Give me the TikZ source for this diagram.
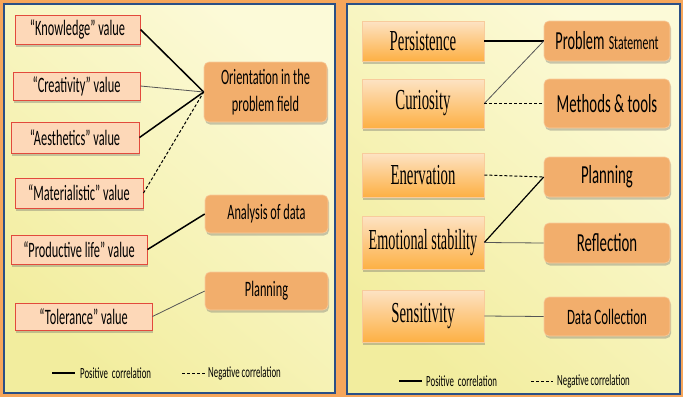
\documentclass[tikz,border=0pt]{standalone}
\usepackage{fontspec}
\usepackage{graphicx}
\setmainfont{Carlito}
\newfontfamily\calfont{Carlito}
\newfontfamily\serfont{Liberation Serif}
\usetikzlibrary{shadows}
% squeeze text sideways, the slide text is very narrow
\newcommand{\narrowtext}[2][0.56]{\scalebox{#1}[1]{#2}}
\definecolor{slideorange}{HTML}{F6A65B}
\definecolor{paneltop}{HTML}{FCFAD8}
\definecolor{panelbot}{HTML}{F2ED9E}
\definecolor{panelline}{HTML}{2A4F86}
\definecolor{valuefill}{HTML}{FDD8B8}
\definecolor{valueline}{HTML}{E24A3C}
\definecolor{stagefill}{HTML}{F2AE6C}
\definecolor{stageline}{HTML}{F8CB9C}
\definecolor{traittop}{HTML}{FDE3C4}
\definecolor{traitbot}{HTML}{FDB044}
\definecolor{weakline}{HTML}{555555}
\tikzset{
	panel/.style={draw=panelline,line width=2pt,top color=paneltop,bottom color=panelbot,shading angle=-40},
	boxshadow/.style={drop shadow={shadow xshift=1pt,shadow yshift=-2.5pt,opacity=0.35,fill=black!60}},
	valuebox/.style={boxshadow,draw=valueline,line width=1pt,fill=valuefill,inner sep=0pt,font=\calfont\fontsize{22}{27}\selectfont},
	stagebox/.style={boxshadow,draw=stageline,line width=0.6pt,fill=stagefill,rounded corners=5pt,inner sep=0pt,align=center,font=\calfont\fontsize{22}{27}\selectfont},
	traitbox/.style={boxshadow,draw=stageline,line width=0.6pt,top color=traittop,bottom color=traitbot,inner sep=0pt,font=\serfont\fontsize{29}{32}\selectfont},
	phasebox/.style={stagebox,font=\calfont\fontsize{26}{30}\selectfont},
	poscor/.style={draw=black,line width=1.5pt},
	weakcor/.style={draw=weakline,line width=0.8pt},
	negcor/.style={draw=black,line width=1pt,dash pattern=on 3pt off 2pt},
	legtext/.style={anchor=west,inner sep=0pt,font=\calfont\fontsize{15.5}{18}\selectfont},
}
\begin{document}
\begin{tikzpicture}[x=1pt,y=-1pt]
			% slide background and the two panels
			\fill[slideorange] (0,0) rectangle (683,397);
			\useasboundingbox (0,0) rectangle (683,397);
			\path[panel] (4,4) rectangle (335,393);
			\path[panel] (347,4) rectangle (680,394);

			% left panel: values
			\node[valuebox,minimum width=125,minimum height=29] (know) at (77.5,29.5) {\narrowtext{“Knowledge” value}};
			\node[valuebox,minimum width=127,minimum height=28] (crea) at (76.5,86) {\narrowtext{“Creativity” value}};
			\node[valuebox,minimum width=128,minimum height=31] (aest) at (75,137.5) {\narrowtext{“Aesthetics” value}};
			\node[valuebox,minimum width=128,minimum height=30] (mater) at (79,193) {\narrowtext{“Materialistic” value}};
			\node[valuebox,minimum width=136,minimum height=29] (prod) at (79,249.5) {\narrowtext{“Productive life” value}};
			\node[valuebox,minimum width=137,minimum height=27] (tole) at (83.5,316.5) {\narrowtext{“Tolerance” value}};

			% left panel: stages
			\node[stagebox,minimum width=123,minimum height=60] (orient) at (265.5,92) {\narrowtext{Orientation in the}\\\narrowtext{problem field}};
			\node[stagebox,minimum width=123,minimum height=38] (analys) at (266.5,214) {\narrowtext{Analysis of data}};
			\node[stagebox,minimum width=123,minimum height=38] (planl) at (266.5,291) {\narrowtext{Planning}};

			% left panel: correlations
			\draw[poscor] (know.east) -- (orient.west);
			\draw[weakcor] (crea.east) -- (orient.west);
			\draw[poscor] (aest.east) -- (orient.west);
			\draw[negcor] (mater.east) -- (orient.west);
			\draw[poscor] (prod.east) -- (analys.west);
			\draw[weakcor] (tole.east) -- (planl.west);

			% right panel: traits
			\node[traitbox,minimum width=122,minimum height=40] (pers) at (423,41) {\narrowtext[0.51]{Persistence}};
			\node[traitbox,minimum width=122,minimum height=49] (curi) at (423,103.5) {\narrowtext[0.51]{Curiosity}};
			\node[traitbox,minimum width=122,minimum height=44] (ener) at (423,175) {\narrowtext[0.51]{Enervation}};
			\node[traitbox,minimum width=122,minimum height=53] (emot) at (423,242.5) {\narrowtext[0.49]{Emotional stability}};
			\node[traitbox,minimum width=122,minimum height=52] (sens) at (423,316) {\narrowtext[0.51]{Sensitivity}};

			% right panel: phases
			\node[phasebox,minimum width=126,minimum height=40] (probst) at (607,41) {\narrowtext[0.55]{Problem}\,\narrowtext[0.59]{\fontsize{20}{30}\selectfont Statement}};
			\node[phasebox,minimum width=126,minimum height=49] (meth) at (607,103.5) {\narrowtext[0.57]{Methods \& tools}};
			\node[phasebox,minimum width=126,minimum height=40] (planr) at (607,177) {\narrowtext[0.57]{Planning}};
			\node[phasebox,minimum width=126,minimum height=40] (refl) at (607,243) {\narrowtext[0.57]{Reflection}};
			\node[phasebox,minimum width=126,minimum height=39] (datac) at (607,316.5) {\narrowtext[0.59]{\fontsize{22}{30}\selectfont Data Collection}};

			% right panel: correlations
			\draw[poscor,line width=2.5pt] (pers.east) -- (probst.west);
			\draw[weakcor] (curi.east) -- (probst.west);
			\draw[negcor] (curi.east) -- (meth.west);
			\draw[negcor] (ener.east) -- (planr.west);
			\draw[poscor,line width=1.2pt] (emot.east) -- (planr.west);
			\draw[weakcor] (emot.east) -- (refl.west);
			\draw[weakcor] (sens.east) -- (datac.west);

			% legends
			\node[legtext] (lposl) at (80,373) {\narrowtext[0.57]{Positive\ \ correlation}};
			\node[legtext] (lnegl) at (208,373) {\narrowtext[0.57]{Negative correlation}};
			\coordinate (lposa) at (52,373);
			\coordinate (lposb) at (75,373);
			\coordinate (lnega) at (182,373);
			\coordinate (lnegb) at (205,373);
			\draw[poscor] (lposa) -- (lposb);
			\draw[negcor] (lnega) -- (lnegb);

			\node[legtext] (rposl) at (426,381) {\narrowtext[0.57]{Positive\ \ correlation}};
			\node[legtext] (rnegl) at (557,381) {\narrowtext[0.57]{Negative correlation}};
			\coordinate (rposa) at (399,381);
			\coordinate (rposb) at (422,381);
			\coordinate (rnega) at (531,381);
			\coordinate (rnegb) at (553,381);
			\draw[poscor] (rposa) -- (rposb);
			\draw[negcor] (rnega) -- (rnegb);
\end{tikzpicture}
\end{document}
